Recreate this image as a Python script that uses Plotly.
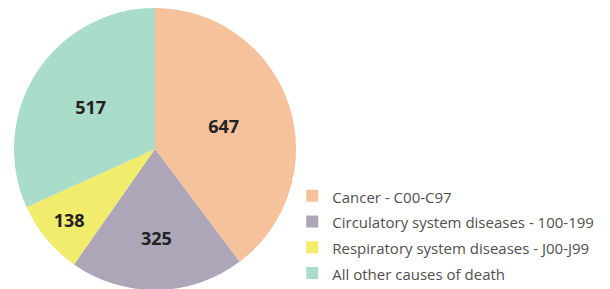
import plotly.graph_objects as go

labels = ["Cancer - C00-C97", "Circulatory system diseases - 100-199",
          "Respiratory system diseases - J00-J99", "All other causes of death"]
values = [647, 325, 138, 517]
colors = ["#F5C29C", "#ADA6B9", "#F1EC6C", "#A9DCC9"]

legend_labels = ['<span style="font-size:15px">%s</span>' % s for s in labels]

fig = go.Figure(go.Pie(
    labels=legend_labels, values=values, sort=False, direction="clockwise", rotation=0,
    marker=dict(colors=colors, line=dict(width=0)),
    textinfo="value", textposition="inside", insidetextorientation="horizontal",
    textfont=dict(family="Open Sans", size=18, color="#222222", weight="bold"),
    domain=dict(x=[6/610, 288/610], y=[7/289, 1]),
    hoverinfo="label+value",
))
fig.update_layout(
    width=610, height=289, margin=dict(l=0, r=0, t=0, b=0),
    paper_bgcolor="white", plot_bgcolor="white",
    legend=dict(x=0.466, y=0.412, xanchor="left", yanchor="top",
                font=dict(family="Open Sans", size=17.5, color="#505050"),
                itemwidth=30),
)
fig.write_html("out.html")
